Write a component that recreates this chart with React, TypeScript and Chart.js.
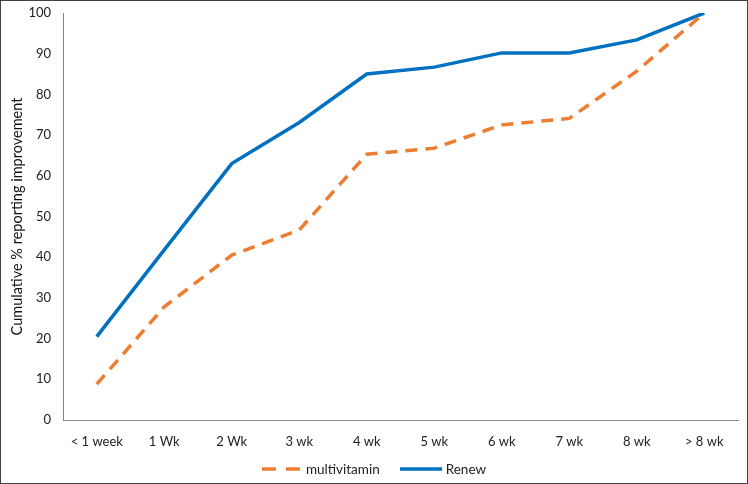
import React, { useEffect, useRef } from "react";
import { Chart, registerables } from "chart.js";

Chart.register(...registerables);

const categories = ["< 1 week", "1 Wk", "2 Wk", "3 wk", "4 wk", "5 wk", "6 wk", "7 wk", "8 wk", "> 8 wk"];
const multivitamin = [8.8, 27.8, 40.5, 46.7, 65.3, 66.8, 72.5, 74.1, 85.7, 100];
const renew = [20.5, 41.8, 63.0, 73.1, 85.0, 86.7, 90.2, 90.2, 93.4, 100];
const yTicks = [0, 10, 20, 30, 40, 50, 60, 70, 80, 90, 100];

const ORANGE = "#ED7D31";
const BLUE = "#0070C0";
const FONT = "Lato, 'Open Sans', sans-serif";

export default function App() {
  const ref = useRef<HTMLCanvasElement | null>(null);

  useEffect(() => {
    document.body.style.margin = "0";
    if (!ref.current) return;
    const chart = new Chart(ref.current, {
      type: "line",
      data: {
        labels: categories,
        datasets: [
          {
            label: "multivitamin",
            data: multivitamin,
            borderColor: ORANGE,
            backgroundColor: ORANGE,
            borderWidth: 3.5,
            borderDash: [12, 8],
            pointRadius: 0,
            tension: 0,
          },
          {
            label: "Renew",
            data: renew,
            borderColor: BLUE,
            backgroundColor: BLUE,
            borderWidth: 3.5,
            pointRadius: 0,
            tension: 0,
          },
        ],
      },
      options: {
        animation: false,
        responsive: false,
        maintainAspectRatio: false,
        layout: { padding: { top: 12, right: 9, bottom: 26, left: 0 } },
        plugins: {
          legend: { display: false },
          tooltip: { enabled: false },
        },
        scales: {
          x: {
            offset: true,
            grid: { display: false, drawTicks: false, offset: true },
            border: { display: true, color: "#868686", width: 1 },
            ticks: { color: "#222", font: { family: FONT, size: 13 }, padding: 14, maxRotation: 0, autoSkip: false },
            afterFit: (s: any) => { s.height = 37; },
          },
          y: {
            min: 0,
            max: 100,
            afterBuildTicks: (s: any) => { s.ticks = yTicks.map((v) => ({ value: v })); },
            grid: { display: false, drawTicks: false },
            border: { display: true, color: "#868686", width: 1 },
            ticks: { color: "#222", font: { family: FONT, size: 13 }, padding: 12 },
            title: {
              display: true,
              text: "Cumulative % reporting improvement",
              color: "#111",
              font: { family: FONT, size: 14.5 },
              padding: { top: 8, bottom: 4 },
            },
            afterFit: (s: any) => {
              s.width = 62;
              s.paddingTop = 0;
              s.paddingBottom = 0;
            },
          },
        },
      },
    });
    return () => chart.destroy();
  }, []);

  const item = (label: string, color: string, dash: string | undefined, w: number, gapAfter: number) => (
    <div style={{ display: "flex", alignItems: "center", marginRight: gapAfter }}>
      <svg width={w} height={8} style={{ marginRight: 4 }}>
        <line x1={0} y1={4} x2={w} y2={4} stroke={color} strokeWidth={3.5} strokeDasharray={dash} />
      </svg>
      <span>{label}</span>
    </div>
  );

  return (
    <div
      style={{
        position: "fixed",
        left: 0,
        top: 0,
        width: 748,
        height: 484,
        boxSizing: "border-box",
        border: "1px solid #404040",
        background: "#fff",
      }}
    >
      <canvas ref={ref} width={746} height={482} style={{ display: "block" }} />
      <div
        style={{
          position: "absolute",
          left: 0,
          right: 0,
          top: 460,
          display: "flex",
          justifyContent: "center",
          fontFamily: FONT,
          fontSize: 13.5,
          color: "#222",
          lineHeight: "16px",
        }}
      >
        {item("multivitamin", ORANGE, "14 10", 40, 20)}
        {item("Renew", BLUE, undefined, 42, 0)}
      </div>
    </div>
  );
}
